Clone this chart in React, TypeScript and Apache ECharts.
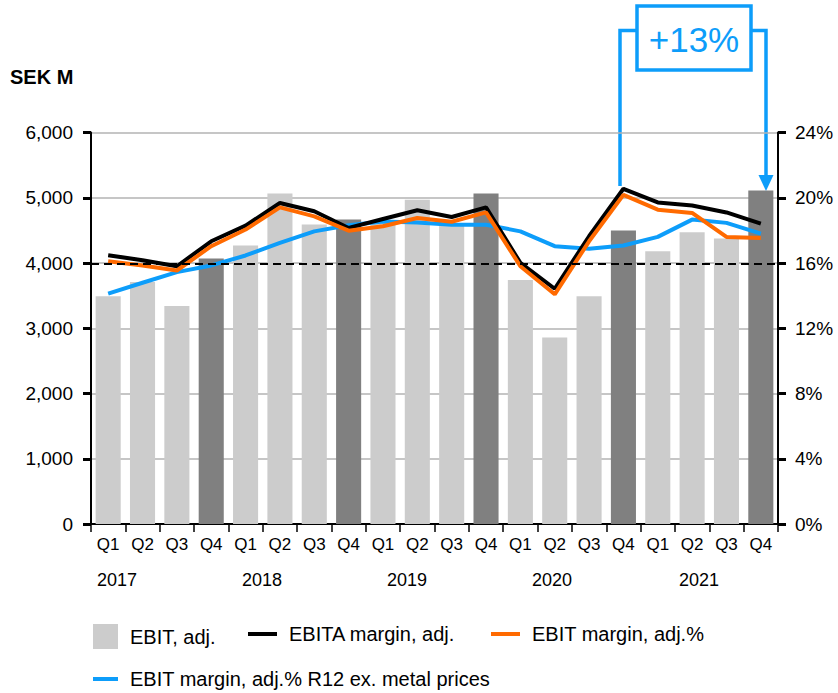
import React, { useEffect, useRef } from "react";
import * as echarts from "echarts";

const categories = [
  "Q1", "Q2", "Q3", "Q4",
  "Q1", "Q2", "Q3", "Q4",
  "Q1", "Q2", "Q3", "Q4",
  "Q1", "Q2", "Q3", "Q4",
  "Q1", "Q2", "Q3", "Q4",
];
const years = ["2017", "2018", "2019", "2020", "2021"];
const yearX = [117, 262, 407, 552, 699];

const ebitAdj = [3490, 3710, 3340, 4070, 4270, 5065, 4590, 4665, 4640, 4970, 4590, 5065, 3740, 2860, 3490, 4500, 4180, 4470, 4375, 5110];
const darkBars = [3, 7, 11, 15, 19];
const ebitaMargin = [16.48, 16.17, 15.8, 17.33, 18.29, 19.68, 19.17, 18.15, 18.7, 19.23, 18.82, 19.41, 16.01, 14.42, 17.64, 20.55, 19.71, 19.53, 19.1, 18.41];
const ebitMargin = [16.11, 15.85, 15.54, 17.03, 18.05, 19.41, 18.86, 17.98, 18.25, 18.76, 18.53, 19.1, 15.8, 14.08, 17.33, 20.18, 19.27, 19.07, 17.6, 17.54];
const r12ExMetal = [14.12, 14.79, 15.44, 15.85, 16.46, 17.23, 17.94, 18.31, 18.55, 18.49, 18.35, 18.35, 17.94, 17.03, 16.87, 17.07, 17.6, 18.66, 18.46, 17.8];
const targetLevel = 15.93;
const annotationText = "+13%";

const FONT = "'Liberation Sans', Arial, Helvetica, sans-serif";
const LIGHT = "#cccccc";
const DARK = "#808080";
const ORANGE = "#ff6a00";
const BLUE = "#0d9dfa";

export default function App() {
  const ref = useRef<HTMLDivElement>(null);
  useEffect(() => {
    if (!ref.current) return;
    const chart = echarts.init(ref.current, null, { renderer: "svg" });
    const legendText = { fontFamily: FONT, fontSize: 20, color: "#000", padding: [0, 0, 0, 7] };
    const option: any = {
      animation: false,
      grid: { left: 91, right: 60, top: 132.5, bottom: 169, containLabel: false },
      legend: [
        { data: ["EBIT, adj."], left: 88, top: 619, itemWidth: 25, itemHeight: 25, icon: "rect", textStyle: legendText },
        { data: ["EBITA margin, adj."], left: 243, top: 619, itemWidth: 29, itemHeight: 4, icon: "rect", textStyle: legendText },
        { data: ["EBIT margin, adj.%"], left: 486, top: 619, itemWidth: 29, itemHeight: 4, icon: "rect", textStyle: legendText },
        { data: ["EBIT margin, adj.% R12 ex. metal prices"], left: 88, top: 664, itemWidth: 25, itemHeight: 4, icon: "rect", textStyle: legendText },
      ],
      xAxis: {
        type: "category",
        data: categories,
        boundaryGap: true,
        axisLine: { lineStyle: { color: "#000", width: 2 } },
        axisTick: { show: true, interval: 0, length: 8, lineStyle: { color: "#000", width: 1.5 } },
        axisLabel: { interval: 0, margin: 12, fontFamily: FONT, fontSize: 17, color: "#000" },
      },
      yAxis: [
        {
          type: "value",
          min: 0,
          max: 6000,
          interval: 1000,
          axisLine: { show: true, lineStyle: { color: "#000", width: 2 } },
          axisTick: { show: true, length: 8, lineStyle: { color: "#000", width: 3 } },
          axisLabel: {
            margin: 18,
            fontFamily: FONT,
            fontSize: 19,
            color: "#000",
            formatter: (v: number) => v.toLocaleString("en-US"),
          },
          splitLine: { show: true, lineStyle: { color: "#b3b3b3", width: 1.5 } },
        },
        {
          type: "value",
          min: 0,
          max: 24,
          interval: 4,
          position: "right",
          axisLine: { show: true, lineStyle: { color: "#000", width: 2 } },
          axisTick: { show: true, length: 8, lineStyle: { color: "#000", width: 3 } },
          axisLabel: { margin: 17, fontFamily: FONT, fontSize: 19, color: "#000", formatter: "{value}%" },
          splitLine: { show: false },
        },
      ],
      series: [
        {
          name: "EBIT, adj.",
          type: "bar",
          yAxisIndex: 0,
          barCategoryGap: "27%",
          itemStyle: { color: LIGHT },
          data: ebitAdj.map((v, i) => ({ value: v, itemStyle: { color: darkBars.includes(i) ? DARK : LIGHT } })),
        },
        {
          name: "EBIT margin, adj.% R12 ex. metal prices",
          type: "line",
          yAxisIndex: 1,
          symbol: "none",
          itemStyle: { color: BLUE },
          lineStyle: { color: BLUE, width: 4 },
          data: r12ExMetal,
          markLine: {
            silent: true,
            symbol: "none",
            label: { show: false },
            lineStyle: { color: "#000", type: [8, 5], width: 2 },
            data: [{ yAxis: targetLevel }],
          },
        },
        {
          name: "EBITA margin, adj.",
          type: "line",
          yAxisIndex: 1,
          symbol: "none",
          itemStyle: { color: "#000" },
          lineStyle: { color: "#000", width: 4 },
          data: ebitaMargin,
        },
        {
          name: "EBIT margin, adj.%",
          type: "line",
          yAxisIndex: 1,
          symbol: "none",
          itemStyle: { color: ORANGE },
          lineStyle: { color: ORANGE, width: 4 },
          data: ebitMargin,
        },
      ],
      graphic: [
        {
          type: "text",
          left: 10,
          top: 67,
          style: { text: "SEK M", fontFamily: FONT, fontSize: 20, fontWeight: "bold", fill: "#000" },
        },
        ...years.map((y, i) => ({
          type: "text",
          x: yearX[i],
          y: 580,
          style: {
            text: y,
            fontFamily: FONT,
            fontSize: 18,
            fill: "#000",
            align: "center",
            verticalAlign: "middle",
          },
        })),
        {
          type: "polyline",
          shape: { points: [[636, 30.5], [620, 30.5], [620, 186]] },
          style: { stroke: BLUE, lineWidth: 3.5, fill: "none" },
        },
        {
          type: "polyline",
          shape: { points: [[752, 30.5], [766, 30.5], [766, 177]] },
          style: { stroke: BLUE, lineWidth: 3.5, fill: "none" },
        },
        {
          type: "polygon",
          shape: { points: [[758.5, 175], [773.5, 175], [766, 191]] },
          style: { fill: BLUE },
        },
        {
          type: "rect",
          shape: { x: 637, y: 6, width: 114, height: 64 },
          style: { stroke: BLUE, lineWidth: 3.5, fill: "#fff" },
        },
        {
          type: "text",
          x: 694,
          y: 39,
          style: {
            text: annotationText,
            fontFamily: FONT,
            fontSize: 35,
            fill: BLUE,
            align: "center",
            verticalAlign: "middle",
          },
        },
      ],
    };
    chart.setOption(option);
    return () => chart.dispose();
  }, []);
  return (
    <div
      ref={ref}
      style={{ position: "absolute", left: 0, top: 0, width: 838, height: 693, background: "#fff" }}
    />
  );
}
